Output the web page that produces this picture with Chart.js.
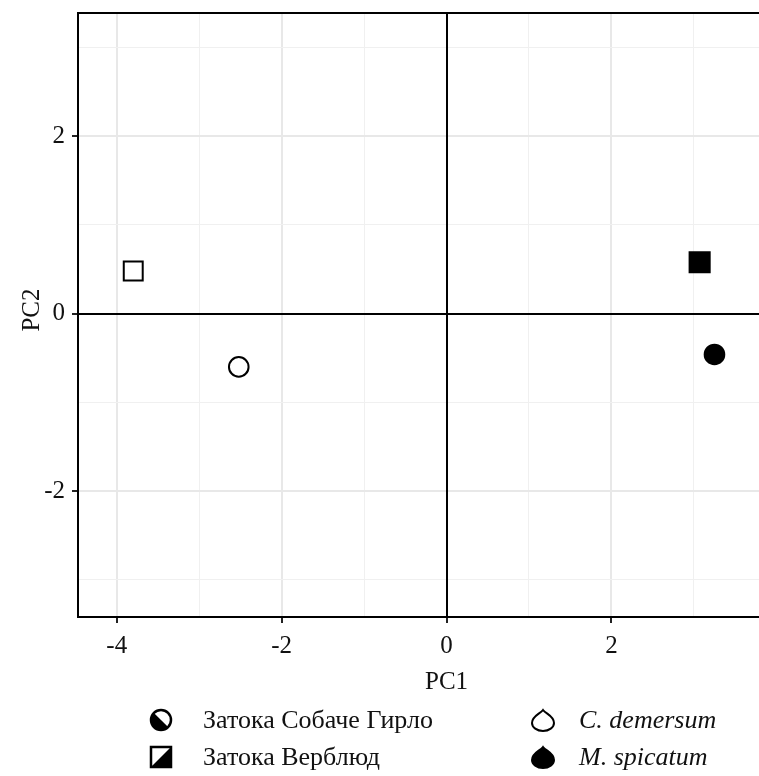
<!DOCTYPE html>
<html>
<head>
<meta charset="utf-8">
<script src="https://cdn.jsdelivr.net/npm/chart.js@4.4.1/dist/chart.umd.min.js"></script>
<style>
  html, body { margin: 0; padding: 0; background: #fff; overflow: hidden; }
  canvas { display: block; }
</style>
</head>
<body>
<canvas id="c" width="759" height="776"></canvas>
<script>
// ---- data ----
const pc1 = [-3.80, -2.52, 3.07, 3.25];
const pc2 = [0.48, -0.60, 0.58, -0.46];
const site = ['Затока Верблюд', 'Затока Собаче Гирло', 'Затока Верблюд', 'Затока Собаче Гирло'];
const species = ['C. demersum', 'C. demersum', 'M. spicatum', 'M. spicatum'];
const siteLabels = ['Затока Собаче Гирло', 'Затока Верблюд'];
const speciesLabels = ['C. demersum', 'M. spicatum'];
const xTickLabels = [-4, -2, 0, 2];
const yTickLabels = [-2, 0, 2];
const xTitle = 'PC1';
const yTitle = 'PC2';

const FONT = '"Liberation Serif", "DejaVu Serif", serif';

const datasets = pc1.map((x, i) => {
  const isSquare = site[i] === 'Затока Верблюд';
  const filled = species[i] === 'M. spicatum';
  return {
    label: site[i] + ' / ' + species[i],
    data: [{ x: x, y: pc2[i] }],
    pointStyle: isSquare ? 'rect' : 'circle',
    pointRadius: isSquare ? (filled ? 14.2 : 13.4) : 9.8,
    pointBackgroundColor: filled ? '#000' : '#fff',
    pointBorderColor: '#000',
    pointBorderWidth: 2,
  };
});

function isMajor(v, list) { return list.some(t => Math.abs(t - v) < 1e-9); }

const zeroPlugin = {
  id: 'zero',
  beforeDatasetsDraw(chart) {
    const ctx = chart.ctx, a = chart.chartArea;
    const x0 = Math.round(chart.scales.x.getPixelForValue(0));
    const y0 = Math.round(chart.scales.y.getPixelForValue(0));
    ctx.save();
    ctx.strokeStyle = '#000';
    ctx.lineWidth = 2;
    ctx.beginPath();
    ctx.moveTo(x0, a.top); ctx.lineTo(x0, a.bottom);
    ctx.moveTo(a.left, y0); ctx.lineTo(a.right, y0);
    ctx.stroke();
    ctx.restore();
  }
};

const framePlugin = {
  id: 'frame',
  afterDraw(chart) {
    const ctx = chart.ctx;
    const a = chart.chartArea;
    const xs = chart.scales.x;
    ctx.save();
    // top border
    ctx.strokeStyle = '#000';
    ctx.lineWidth = 2;
    ctx.beginPath();
    ctx.moveTo(a.left - 1, a.top);
    ctx.lineTo(a.right, a.top);
    ctx.stroke();

    ctx.fillStyle = '#111';
    ctx.font = '25px ' + FONT;
    ctx.textAlign = 'center';
    ctx.textBaseline = 'middle';
    const cx = xs.getPixelForValue(0);
    ctx.fillText(xTitle, cx, 682);
    ctx.save();
    ctx.translate(32, (a.top + a.bottom) / 2 - 5);
    ctx.rotate(-Math.PI / 2);
    ctx.fillText(yTitle, 0, 0);
    ctx.restore();

    // legend
    const rows = [720, 757];
    ctx.textAlign = 'left';
    drawHalfCircle(ctx, 161, rows[0], 10);
    drawHalfSquare(ctx, 161, rows[1], 10);
    ctx.fillStyle = '#111';
    ctx.font = '26px ' + FONT;
    ctx.fillText(siteLabels[0], 203, rows[0] + 1);
    ctx.fillText(siteLabels[1], 203, rows[1] + 1);
    drawDrop(ctx, 543, rows[0], false);
    drawDrop(ctx, 543, rows[1], true);
    ctx.fillStyle = '#111';
    ctx.font = 'italic 26px ' + FONT;
    ctx.fillText(speciesLabels[0], 579, rows[0] + 1);
    ctx.fillText(speciesLabels[1], 579, rows[1] + 1);
    ctx.restore();
  }
};

function drawHalfCircle(ctx, x, y, r) {
  ctx.save();
  ctx.fillStyle = '#fff';
  ctx.beginPath(); ctx.arc(x, y, r, 0, Math.PI * 2); ctx.fill();
  ctx.fillStyle = '#000';
  ctx.beginPath();
  ctx.arc(x, y, r, Math.PI / 4, Math.PI * 5 / 4);
  ctx.closePath();
  ctx.fill();
  ctx.lineWidth = 2.5;
  ctx.strokeStyle = '#000';
  ctx.beginPath(); ctx.arc(x, y, r, 0, Math.PI * 2); ctx.stroke();
  ctx.restore();
}
function drawHalfSquare(ctx, x, y, h) {
  ctx.save();
  ctx.fillStyle = '#fff';
  ctx.fillRect(x - h, y - h, 2 * h, 2 * h);
  ctx.fillStyle = '#000';
  ctx.beginPath();
  ctx.moveTo(x - h, y + h);
  ctx.lineTo(x + h, y - h);
  ctx.lineTo(x + h, y + h);
  ctx.closePath();
  ctx.fill();
  ctx.lineWidth = 2.5;
  ctx.strokeStyle = '#000';
  ctx.strokeRect(x - h, y - h, 2 * h, 2 * h);
  ctx.restore();
}
function drawDrop(ctx, x, y, filled) {
  const rx = 11, ry = 8, cy = y + 3, apex = y - 10;
  ctx.save();
  ctx.beginPath();
  ctx.moveTo(x, apex);
  ctx.bezierCurveTo(x + 3, apex + 4, x + rx, cy - 7, x + rx, cy);
  ctx.ellipse(x, cy, rx, ry, 0, 0, Math.PI, false);
  ctx.bezierCurveTo(x - rx, cy - 7, x - 3, apex + 4, x, apex);
  ctx.closePath();
  ctx.lineWidth = 2;
  ctx.lineJoin = 'miter';
  ctx.strokeStyle = '#000';
  ctx.fillStyle = filled ? '#000' : '#fff';
  ctx.fill();
  ctx.stroke();
  ctx.restore();
}

function gridColor(list) {
  return c => {
    const v = c.tick ? c.tick.value : 0;
    if (Math.abs(v) < 1e-9) return 'rgba(0,0,0,0)';
    return isMajor(v, list) ? '#e8e8e8' : '#f0f0f0';
  };
}
function gridWidth(list) {
  return c => {
    const v = c.tick ? c.tick.value : 0;
    return isMajor(v, list) ? 2 : 1;
  };
}
function tickCol(list) {
  return c => {
    const v = c.tick ? c.tick.value : 0;
    return isMajor(v, list) ? '#222' : 'rgba(0,0,0,0)';
  };
}

new Chart(document.getElementById('c'), {
  type: 'scatter',
  data: { datasets },
  options: {
    responsive: false,
    animation: false,
    devicePixelRatio: 1,
    layout: { autoPadding: false, padding: { top: 13, left: 0, right: 0, bottom: 0 } },
    plugins: { legend: { display: false }, tooltip: { enabled: false } },
    scales: {
      x: {
        type: 'linear',
        min: -4.47, max: 3.79,
        afterFit(s) { s.height = 159; s.paddingLeft = 0; s.paddingRight = 0; },
        border: { display: true, color: '#000', width: 2 },
        grid: {
          color: gridColor(xTickLabels), lineWidth: gridWidth(xTickLabels),
          drawTicks: true, tickLength: 6, tickColor: tickCol(xTickLabels), tickWidth: 2
        },
        ticks: {
          stepSize: 1, includeBounds: false, autoSkip: false, maxRotation: 0,
          padding: 8, color: '#111', font: { family: FONT, size: 25 },
          callback: v => isMajor(v, xTickLabels) ? String(v) : ''
        }
      },
      y: {
        type: 'linear',
        min: -3.42, max: 3.39,
        afterFit(s) { s.width = 78; s.paddingTop = 0; s.paddingBottom = 0; },
        border: { display: true, color: '#000', width: 2 },
        grid: {
          color: gridColor(yTickLabels), lineWidth: gridWidth(yTickLabels),
          drawTicks: true, tickLength: 6, tickColor: tickCol(yTickLabels), tickWidth: 2
        },
        ticks: {
          stepSize: 1, includeBounds: false, autoSkip: false,
          padding: 7, color: '#111', font: { family: FONT, size: 25 },
          callback: v => isMajor(v, yTickLabels) ? String(v) : ''
        }
      }
    }
  },
  plugins: [zeroPlugin, framePlugin]
});
</script>
</body>
</html>
